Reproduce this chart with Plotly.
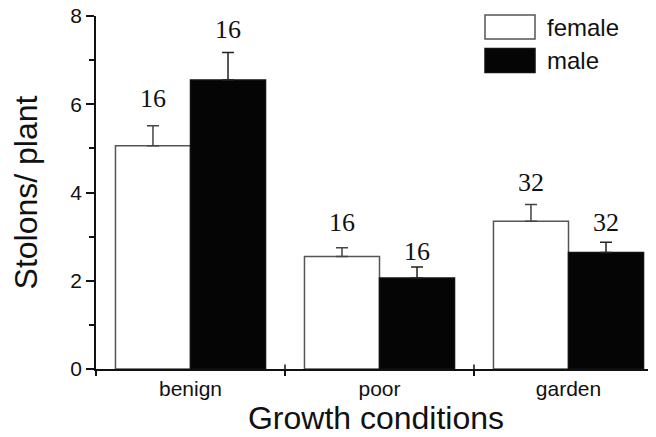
import plotly.graph_objects as go

# ---- data ----
categories = ["benign", "poor", "garden"]
female_mean = [5.06, 2.55, 3.35]
female_se = [0.45, 0.20, 0.38]
male_mean = [6.55, 2.06, 2.64]
male_se = [0.62, 0.25, 0.23]
female_n = [16, 16, 32]
male_n = [16, 16, 32]
y_tick_vals = [0, 2, 4, 6, 8]
series_names = ["female", "male"]

# ---- layout geometry (pixels); the page body adds an 8px offset ----
OFF = 8
W, H = 656 - OFF, 437 - OFF
ML, MR, MT, MB = 96 - OFF, 0, 16 - OFF, 68
PW, PH = W - ML - MR, H - MT - MB
CAT_PX = 189.0  # width of one category in pixels
x_range = [-0.5, -0.5 + PW / CAT_PX]

SANS = "Liberation Sans, Arial, sans-serif"
SERIF = "Liberation Serif, Times New Roman, serif"


def xp(px):
    # reference pixel -> paper fraction
    return (px - OFF - ML) / PW


def yp(py):
    return (H - MB - (py - OFF)) / PH


fig = go.Figure()
fig.add_trace(go.Bar(
    name=series_names[0], x=categories, y=female_mean,
    marker=dict(color="white", line=dict(color="#555555", width=1.5)),
    error_y=dict(type="data", symmetric=False, array=female_se,
                 arrayminus=[0] * len(female_se), color="#444444",
                 thickness=1.5, width=6),
    showlegend=False,
))
fig.add_trace(go.Bar(
    name=series_names[1], x=categories, y=male_mean,
    marker=dict(color="#050505", line=dict(color="#111111", width=1.5)),
    error_y=dict(type="data", symmetric=False, array=male_se,
                 arrayminus=[0] * len(male_se), color="#222222",
                 thickness=1.5, width=6),
    showlegend=False,
))

# sample size labels above error bars
half_bar_px = CAT_PX * (1 - 0.206) / 4
female_shift = [27, 25, 22]
male_shift = [23, 16, 20]
for i, c in enumerate(categories):
    fig.add_annotation(x=c, y=female_mean[i] + female_se[i], xref="x", yref="y",
                       text=str(female_n[i]), showarrow=False,
                       xshift=-half_bar_px, yshift=female_shift[i],
                       yanchor="middle",
                       font=dict(family=SERIF, size=26, color="#111111"))
    fig.add_annotation(x=c, y=male_mean[i] + male_se[i], xref="x", yref="y",
                       text=str(male_n[i]), showarrow=False,
                       xshift=half_bar_px, yshift=male_shift[i],
                       yanchor="middle",
                       font=dict(family=SERIF, size=26, color="#111111"))

# legend drawn manually (large swatches like the reference)
fig.add_shape(type="rect", xref="paper", yref="paper",
              x0=xp(485), x1=xp(535), y0=yp(39), y1=yp(15),
              fillcolor="white", line=dict(color="#555555", width=1.5))
fig.add_shape(type="rect", xref="paper", yref="paper",
              x0=xp(485), x1=xp(535), y0=yp(72.5), y1=yp(48.5),
              fillcolor="#050505", line=dict(color="#111111", width=1.5))
fig.add_annotation(xref="paper", yref="paper", x=xp(545), y=yp(27),
                   text=series_names[0], showarrow=False, xanchor="left",
                   yanchor="middle", font=dict(family=SANS, size=24, color="#111111"))
fig.add_annotation(xref="paper", yref="paper", x=xp(545), y=yp(60.5),
                   text=series_names[1], showarrow=False, xanchor="left",
                   yanchor="middle", font=dict(family=SANS, size=24, color="#111111"))

# inner half of the crossing category-boundary ticks
for b in [0.5, 1.5]:
    fig.add_shape(type="line", xref="x", yref="paper", x0=b, x1=b,
                  y0=0, y1=4.5 / PH, line=dict(color="#111111", width=1.5))

fig.update_layout(
    width=W, height=H,
    margin=dict(l=ML, r=MR, t=MT, b=MB, pad=0),
    paper_bgcolor="white", plot_bgcolor="white",
    barmode="group", bargap=0.206, bargroupgap=0,
    font=dict(family=SANS, color="#111111"),
)
fig.update_xaxes(
    range=x_range, showgrid=False, zeroline=False, automargin=False,
    showline=True, linecolor="#111111", linewidth=1.5,
    tickson="boundaries", ticks="outside", ticklen=5, tickwidth=1.5,
    tickcolor="#111111",
    tickfont=dict(family=SANS, size=21, color="#111111"),
    title=dict(text="Growth conditions", standoff=8,
               font=dict(family=SANS, size=32, color="#111111")),
)
fig.update_yaxes(
    range=[0, 8], tickvals=y_tick_vals, showgrid=False, zeroline=False,
    automargin=False,
    showline=True, linecolor="#111111", linewidth=1.5,
    ticks="outside", ticklen=8, tickwidth=1.5, tickcolor="#111111",
    ticklabeloverflow="allow",
    minor=dict(dtick=1, tick0=0, ticks="outside", ticklen=5,
               tickwidth=1.5, tickcolor="#111111", showgrid=False),
    tickfont=dict(family=SANS, size=21, color="#111111"),
    title=dict(text="Stolons/ plant", standoff=26,
               font=dict(family=SANS, size=32, color="#111111")),
)

fig.write_html("out.html")
